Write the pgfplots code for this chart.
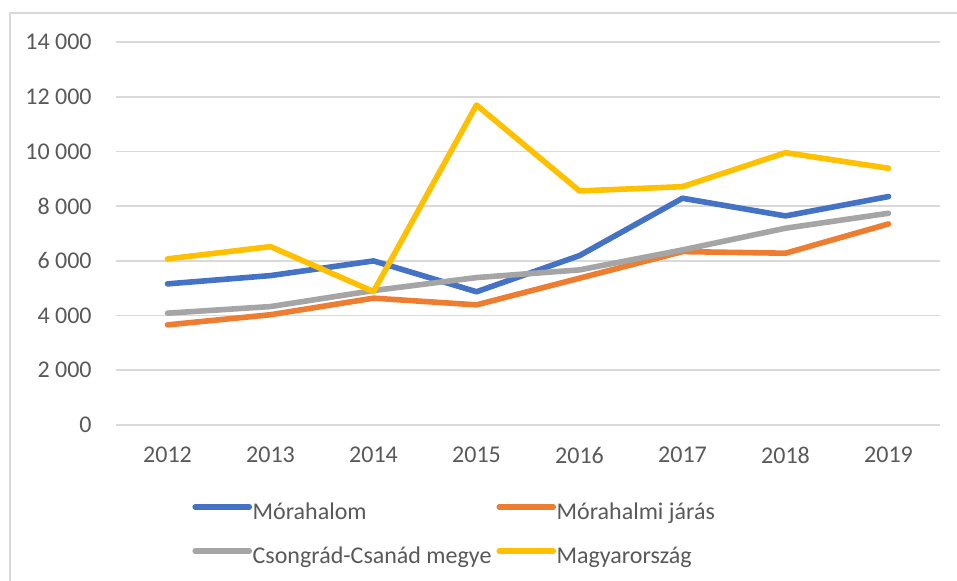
\documentclass[border=0pt]{standalone}
\usepackage{pgfplots}
\pgfplotsset{compat=1.18}
\usepackage{fontspec}
\setmainfont{Carlito}
\definecolor{cblue}{HTML}{4472C4}
\definecolor{corange}{HTML}{ED7D31}
\definecolor{cgray}{HTML}{A5A5A5}
\definecolor{cyellow}{HTML}{FFC000}
\definecolor{cgrid}{HTML}{D9D9D9}
\definecolor{ctext}{HTML}{595959}
\begin{document}
\fontsize{12}{14}\selectfont
\begin{tikzpicture}
\useasboundingbox (0,0) rectangle (478.5pt,290.5pt);
\fill[white] (0,0) rectangle (478.5pt,290.5pt);
\draw[cgrid, line width=0.8pt] (5pt,0) -- (5pt,284pt) -- (478.5pt,284pt);
\begin{axis}[
  at={(58pt,78pt)}, anchor=south west,
  scale only axis, width=412pt, height=191.5pt,
  xmin=-0.5, xmax=7.5, ymin=0, ymax=14000,
  clip=false,
  scaled y ticks=false,
  axis line style={draw=none},
  major tick length=0pt,
  xtick={0,1,2,3,4,5,6,7},
  xticklabels={2012,2013,2014,2015,2016,2017,2018,2019},
  ytick={0,2000,4000,6000,8000,10000,12000,14000},
  yticklabels={0,2 000,4 000,6 000,8 000,10 000,12 000,14 000},
  ymajorgrids, grid style={cgrid, line width=0.9pt},
  tick label style={font=\fontsize{12}{14}\selectfont, text=ctext},
  xticklabel style={anchor=north, inner sep=0pt, yshift=-11pt},
  yticklabel style={anchor=east, inner sep=0pt, xshift=-12pt},
  every axis plot/.append style={line width=2.8pt, line cap=round, line join=round},
  legend columns=2,
  legend cell align=left,
  legend style={draw=none, fill=none, at={(0.085,-0.187)}, anchor=north west,
    font=\fontsize{12}{14}\selectfont, text=ctext,
    nodes={inner sep=0pt, text height=9pt, text depth=3pt},
    row sep=10pt,
    /tikz/every even column/.append style={column sep=2.5pt}},
  legend image code/.code={\draw[#1, line cap=round] (0pt,3pt) -- (27pt,3pt);},
]
\addplot[cblue] coordinates {(0,5158) (1,5461) (2,5998) (3,4870) (4,6192) (5,8288) (6,7642) (7,8350)};
\addlegendentry{\hspace{0.3pt}Mórahalom}
\addplot[corange] coordinates {(0,3660) (1,4030) (2,4636) (3,4391) (4,5366) (5,6338) (6,6279) (7,7350)};
\addlegendentry{\hspace{0.3pt}Mórahalmi járás}
\addplot[cgray] coordinates {(0,4087) (1,4329) (2,4914) (3,5388) (4,5669) (5,6400) (6,7193) (7,7740)};
\addlegendentry{\hspace{0.3pt}Csongrád-Csanád megye}
\addplot[cyellow] coordinates {(0,6071) (1,6521) (2,4877) (3,11697) (4,8555) (5,8712) (6,9954) (7,9384)};
\addlegendentry{\hspace{0.3pt}Magyarország}
\end{axis}
\end{tikzpicture}
\end{document}
